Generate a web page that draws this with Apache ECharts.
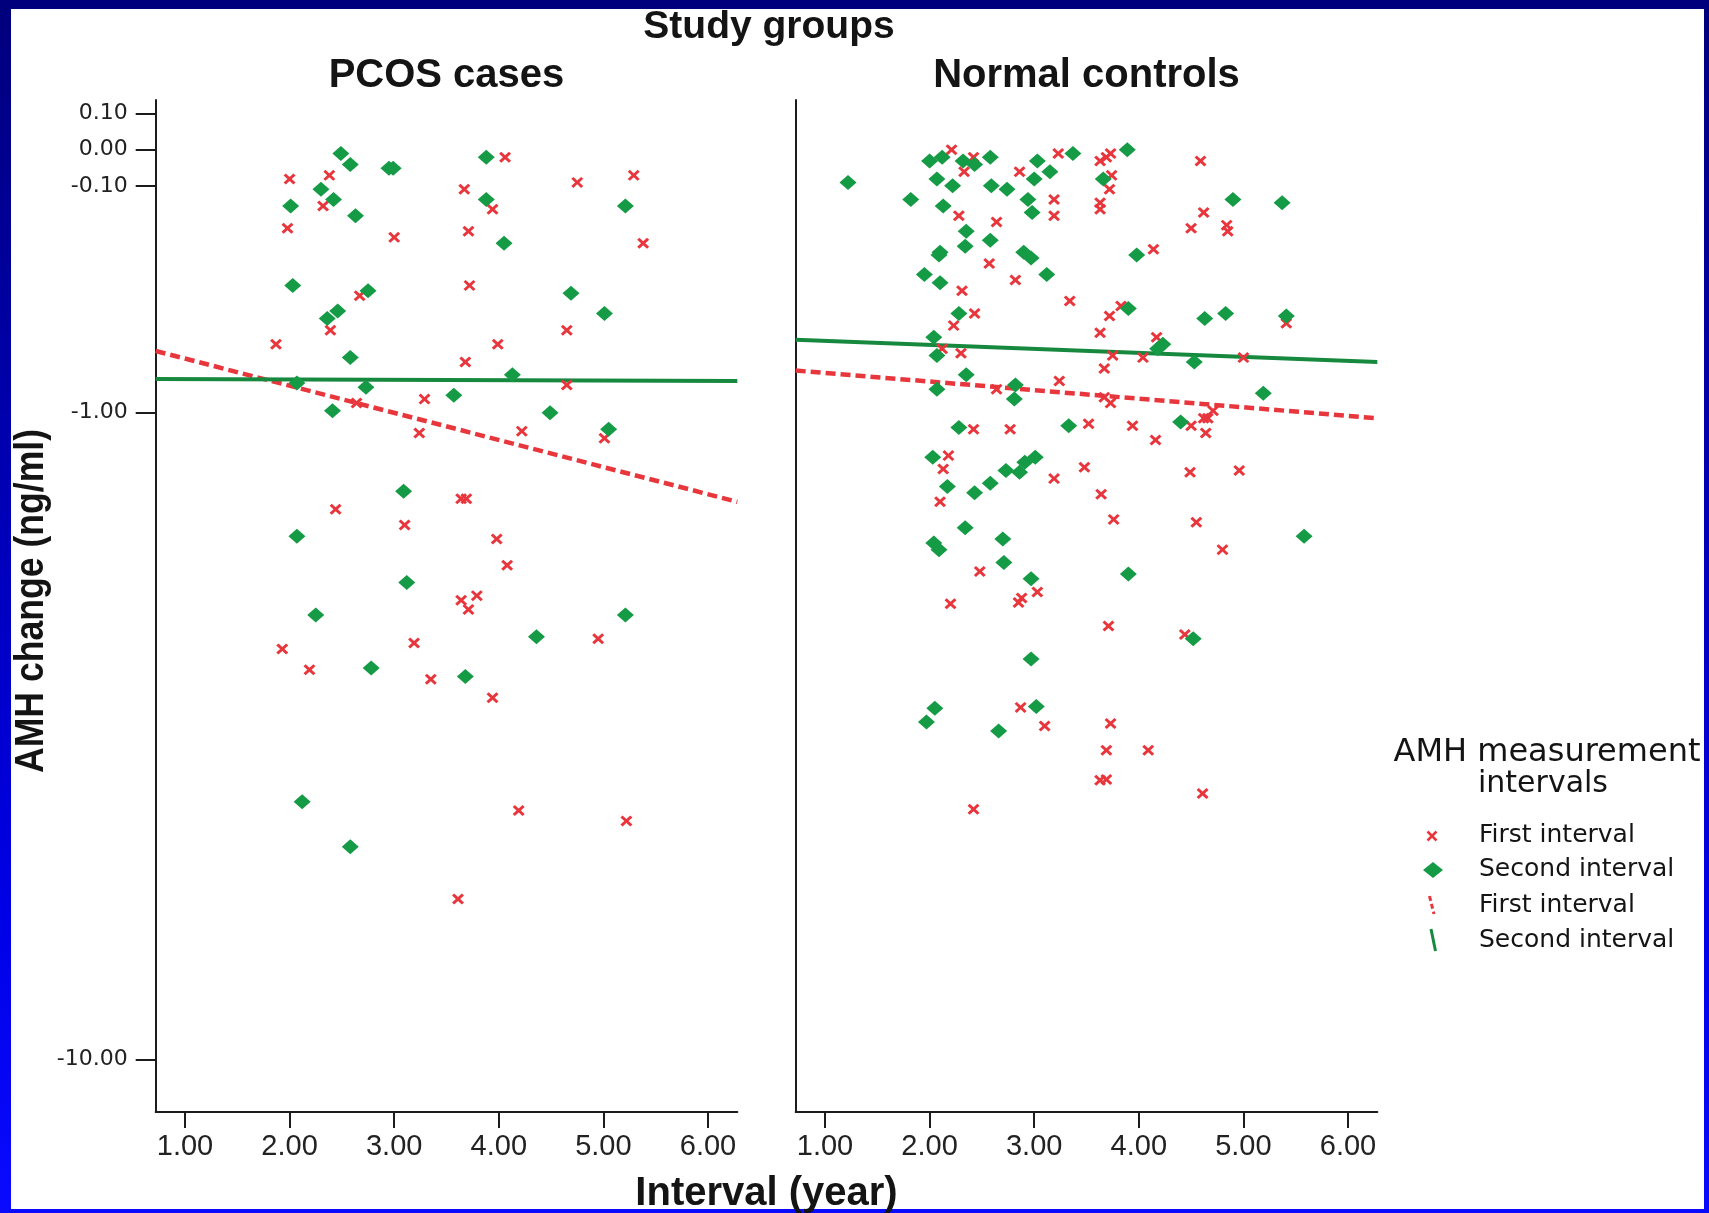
<!DOCTYPE html>
<html>
<head>
<meta charset="utf-8">
<script src="https://cdn.jsdelivr.net/npm/echarts@6/dist/echarts.min.js"></script>
<style>
  html, body { margin: 0; padding: 0; }
  #frame {
    position: relative; width: 1709px; height: 1213px; overflow: hidden;
    background: linear-gradient(to bottom, #00007c 0%, #0000b4 40%, #0000e6 75%, #0a0aff 100%);
  }
  #paper { position: absolute; left: 11px; top: 9px; right: 5px; bottom: 4px; background: #ffffff; }
  #chart { position: absolute; left: 0; top: 0; width: 1709px; height: 1213px; }
</style>
</head>
<body>
<div id="frame"><div id="paper"></div><div id="chart"></div></div>
<script>
// Panels and axis ticks
const panelTitles = ['PCOS cases', 'Normal controls'];
const xTicks = [1, 2, 3, 4, 5, 6];
const yTicks = [0.1, 0, -0.1, -1, -10];
const xRange = [0.72, 6.28];
const yRange = [-11.64, 0.14];

// AMH change (ng/ml) against interval (years) — PCOS cases
const pcosFirst = [
  [4.06,-0.02],[2.00,-0.08],[2.38,-0.07],[4.75,-0.09],[5.29,-0.07],[3.67,-0.11],[2.32,-0.16],[3.94,-0.17],
  [1.98,-0.23],[3.00,-0.26],[3.71,-0.24],[5.38,-0.28],[3.72,-0.43],[2.67,-0.47],[2.39,-0.61],[4.65,-0.61],
  [1.87,-0.67],[3.99,-0.67],[3.68,-0.75],[4.65,-0.86],[2.64,-0.95],[3.29,-0.93],[3.24,-1.11],[4.22,-1.10],
  [5.01,-1.14],[3.64,-1.51],[3.69,-1.51],[2.44,-1.58],[3.10,-1.69],[3.98,-1.79],[4.08,-1.99],[3.64,-2.28],
  [3.79,-2.24],[3.71,-2.36],[4.95,-2.63],[1.93,-2.73],[3.19,-2.67],[2.19,-2.94],[3.35,-3.04],[3.94,-3.24],
  [4.19,-4.71],[5.22,-4.87],[3.61,-6.21]
];
const pcosSecond = [
  [2.49,-0.01],[2.58,-0.04],[2.95,-0.05],[2.99,-0.05],[3.88,-0.02],[2.30,-0.11],[2.42,-0.14],[2.01,-0.16],
  [2.63,-0.19],[3.88,-0.14],[5.21,-0.16],[4.05,-0.28],[2.03,-0.43],[2.75,-0.45],[2.46,-0.53],[2.36,-0.56],
  [4.69,-0.46],[5.01,-0.54],[2.58,-0.73],[4.13,-0.81],[2.07,-0.85],[2.73,-0.87],[3.57,-0.91],[2.41,-0.99],
  [4.49,-1.00],[5.05,-1.09],[3.09,-1.46],[2.07,-1.77],[3.12,-2.13],[2.25,-2.41],[5.21,-2.41],[4.36,-2.61],
  [2.78,-2.92],[3.68,-3.01],[2.12,-4.58],[2.58,-5.28]
];

// Normal controls
const ctrlFirst = [
  [2.21,0.00],[2.42,-0.02],[2.33,-0.06],[3.23,-0.01],[2.86,-0.06],[3.73,-0.01],[3.69,-0.02],[3.63,-0.03],
  [3.74,-0.07],[3.72,-0.11],[4.59,-0.03],[3.19,-0.14],[3.19,-0.19],[3.63,-0.15],[3.63,-0.17],[2.28,-0.19],
  [2.64,-0.21],[4.62,-0.18],[4.50,-0.23],[4.84,-0.22],[4.85,-0.24],[4.14,-0.30],[2.57,-0.35],[2.82,-0.41],
  [2.31,-0.45],[3.34,-0.49],[3.83,-0.51],[3.72,-0.55],[2.43,-0.54],[2.23,-0.59],[3.63,-0.62],[5.41,-0.58],
  [4.17,-0.64],[2.12,-0.69],[2.30,-0.71],[3.75,-0.72],[4.04,-0.73],[5.00,-0.73],[3.67,-0.78],[3.24,-0.84],
  [2.64,-0.88],[3.67,-0.92],[3.73,-0.95],[4.71,-0.99],[4.62,-1.03],[4.66,-1.03],[4.50,-1.07],[4.64,-1.11],
  [3.52,-1.06],[3.94,-1.07],[2.42,-1.09],[2.77,-1.09],[4.16,-1.15],[2.18,-1.24],[2.13,-1.32],[2.10,-1.53],
  [3.19,-1.38],[3.48,-1.31],[4.49,-1.34],[4.96,-1.33],[3.64,-1.48],[3.76,-1.65],[4.55,-1.67],[4.80,-1.87],
  [2.48,-2.04],[3.03,-2.21],[2.88,-2.26],[2.85,-2.30],[2.20,-2.31],[3.71,-2.51],[4.44,-2.59],[2.87,-3.35],
  [3.10,-3.57],[3.73,-3.54],[3.69,-3.87],[4.09,-3.87],[3.63,-4.27],[3.69,-4.26],[4.61,-4.46],[2.42,-4.69]
];
const ctrlSecond = [
  [1.22,-0.09],[2.00,-0.03],[2.12,-0.02],[2.32,-0.03],[2.43,-0.04],[2.58,-0.02],[3.03,-0.03],[3.37,-0.01],
  [3.15,-0.06],[3.66,-0.08],[3.89,0.00],[2.07,-0.08],[2.22,-0.10],[2.59,-0.10],[2.74,-0.11],[3.00,-0.08],
  [1.82,-0.14],[2.13,-0.16],[2.94,-0.14],[2.98,-0.18],[4.90,-0.14],[5.37,-0.15],[2.35,-0.24],[2.34,-0.29],
  [2.58,-0.27],[2.10,-0.31],[2.09,-0.32],[2.90,-0.31],[2.97,-0.33],[3.98,-0.32],[1.95,-0.39],[2.10,-0.42],
  [3.12,-0.39],[2.28,-0.54],[3.90,-0.52],[4.63,-0.56],[4.83,-0.54],[5.41,-0.55],[2.04,-0.64],[2.07,-0.72],
  [4.23,-0.67],[4.18,-0.69],[4.53,-0.75],[2.35,-0.81],[2.07,-0.88],[2.82,-0.86],[2.81,-0.93],[5.19,-0.90],
  [2.28,-1.08],[3.33,-1.07],[4.40,-1.05],[2.03,-1.25],[2.73,-1.33],[2.86,-1.34],[2.91,-1.28],[3.01,-1.25],
  [2.17,-1.43],[2.43,-1.47],[2.58,-1.41],[2.34,-1.71],[2.70,-1.79],[2.04,-1.82],[2.09,-1.87],[2.71,-1.97],
  [2.97,-2.10],[3.90,-2.06],[5.58,-1.77],[4.52,-2.63],[2.97,-2.83],[2.05,-3.36],[1.97,-3.52],[3.02,-3.34],
  [2.66,-3.63]
];

// Fit lines (end points across the axis range)
const pcosFirstFit  = [[0.72,-0.70],[6.28,-1.53]];
const pcosSecondFit = [[0.72,-0.83],[6.28,-0.84]];
const ctrlFirstFit  = [[0.72,-0.79],[6.28,-1.03]];
const ctrlSecondFit = [[0.72,-0.65],[6.28,-0.75]];

// Safe-log scale: sign(v) * log10(1 + |v|)
function safeLog(v) { return Math.sign(v) * Math.log10(1 + Math.abs(v)); }
function safeExp(t) { return Math.sign(t) * (Math.pow(10, Math.abs(t)) - 1); }
const toScale = pts => pts.map(p => [p[0], safeLog(p[1])]);

const RED = '#e8363d';
const GREEN_PT = '#159b45';
const GREEN_LN = '#17893f';
const AXIS = '#1c1c1c';
const CROSS = 'path://M0,1.8L1.8,0L5,3.2L8.2,0L10,1.8L6.8,5L10,8.2L8.2,10L5,6.8L1.8,10L0,8.2L3.2,5Z';

const gridLeft = [155.7, 795.7];
const gridTop = 100, gridW = 581.6, gridH = 1012;

const chart = echarts.init(document.getElementById('chart'), null, { renderer: 'canvas' });

const grids = [], xAxes = [], yAxes = [];
for (let i = 0; i < 2; i++) {
  grids.push({ left: gridLeft[i], top: gridTop, width: gridW, height: gridH, containLabel: false });
  xAxes.push({
    gridIndex: i, type: 'value', min: xRange[0], max: xRange[1],
    axisLine: { show: true, onZero: false, lineStyle: { color: AXIS, width: 2 } },
    axisTick: { show: true, customValues: xTicks, length: 16, lineStyle: { color: AXIS, width: 2 } },
    axisLabel: {
      customValues: xTicks, formatter: v => Number(v).toFixed(2), margin: 20,
      fontSize: 29, color: '#222', fontFamily: '"Liberation Sans", Arial, sans-serif'
    },
    splitLine: { show: false }
  });
  yAxes.push({
    gridIndex: i, type: 'value', min: safeLog(yRange[0]), max: safeLog(yRange[1]),
    axisLine: { show: true, onZero: false, lineStyle: { color: AXIS, width: 2 } },
    axisTick: { show: i === 0, customValues: yTicks.map(safeLog), length: 20, lineStyle: { color: AXIS, width: 2 } },
    axisLabel: {
      show: i === 0, customValues: yTicks.map(safeLog), formatter: t => safeExp(Number(t)).toFixed(2),
      margin: 28, fontSize: 22, color: '#222', fontFamily: '"DejaVu Sans", sans-serif'
    },
    splitLine: { show: false }
  });
}

function fitLine(i, data, color, dashed) {
  return {
    type: 'line', xAxisIndex: i, yAxisIndex: i, data: toScale(data), symbol: 'none', silent: true, z: 2,
    lineStyle: dashed ? { color: color, width: 4.5, type: [10, 5], cap: 'butt' } : { color: color, width: 4 }
  };
}
function crosses(i, data) {
  return { type: 'scatter', xAxisIndex: i, yAxisIndex: i, data: toScale(data), symbol: CROSS,
           symbolSize: [12, 11], itemStyle: { color: RED, opacity: 1 }, z: 3, silent: true };
}
function diamonds(i, data) {
  return { type: 'scatter', xAxisIndex: i, yAxisIndex: i, data: toScale(data), symbol: 'diamond',
           symbolSize: [17, 15], itemStyle: { color: GREEN_PT, opacity: 1 }, z: 4, silent: true };
}

const series = [
  fitLine(0, pcosFirstFit, RED, true), fitLine(0, pcosSecondFit, GREEN_LN, false),
  crosses(0, pcosFirst), diamonds(0, pcosSecond),
  fitLine(1, ctrlFirstFit, RED, true), fitLine(1, ctrlSecondFit, GREEN_LN, false),
  crosses(1, ctrlFirst), diamonds(1, ctrlSecond)
];

const SANS = '"Liberation Sans", Arial, Helvetica, sans-serif';
const DJV = '"DejaVu Sans", sans-serif';
function label(text, x, y, size, weight, family, align, extra) {
  return Object.assign({
    type: 'text', x: x, y: y, z: 10, silent: true,
    style: { text: text, fontSize: size, fontWeight: weight, fontFamily: family, fill: '#141414',
             align: align || 'center', verticalAlign: 'middle' }
  }, extra || {});
}

const graphics = [
  label('Study groups', 769, 27, 39, 'bold', SANS),
  label(panelTitles[0], gridLeft[0] + gridW / 2, 76, 40, 'bold', SANS),
  label(panelTitles[1], gridLeft[1] + gridW / 2, 76, 40, 'bold', SANS),
  label('Interval (year)', (gridLeft[0] + gridLeft[1] + gridW) / 2, 1194, 40, 'bold', SANS),
  label('AMH change (ng/ml)', 32, 601, 40, 'bold', SANS, 'center', { rotation: Math.PI / 2, scaleX: 0.89 }),
  // legend
  label('AMH measurement', 1547, 753, 32, 'normal', DJV),
  label('intervals', 1543, 784, 30, 'normal', DJV),
  label('First interval', 1479, 835, 25, 'normal', DJV, 'left'),
  label('Second interval', 1479, 869, 25, 'normal', DJV, 'left'),
  label('First interval', 1479, 905, 25, 'normal', DJV, 'left'),
  label('Second interval', 1479, 940, 25, 'normal', DJV, 'left'),
  { type: 'line', z: 10, silent: true, shape: { x1: 1427.5, y1: 831.5, x2: 1436.5, y2: 840.5 }, style: { stroke: RED, lineWidth: 2.5 } },
  { type: 'line', z: 10, silent: true, shape: { x1: 1427.5, y1: 840.5, x2: 1436.5, y2: 831.5 }, style: { stroke: RED, lineWidth: 2.5 } },
  { type: 'polygon', z: 10, silent: true, shape: { points: [[1423, 870], [1433, 862], [1443, 870], [1433, 878]] }, style: { fill: GREEN_PT } },
  { type: 'line', z: 10, silent: true, shape: { x1: 1429.5, y1: 896, x2: 1434, y2: 914 }, style: { stroke: RED, lineWidth: 3, lineDash: [5, 3] } },
  { type: 'line', z: 10, silent: true, shape: { x1: 1431, y1: 929, x2: 1435.5, y2: 951 }, style: { stroke: GREEN_LN, lineWidth: 3 } }
];

chart.setOption({
  backgroundColor: 'transparent',
  animation: false,
  grid: grids,
  xAxis: xAxes,
  yAxis: yAxes,
  series: series,
  graphic: graphics
});
</script>
</body>
</html>
